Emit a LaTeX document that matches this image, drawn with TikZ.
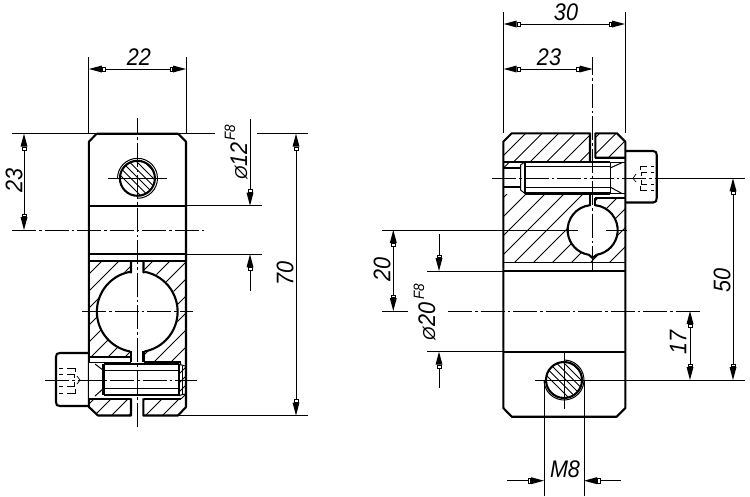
\documentclass[tikz,border=0pt]{standalone}
\usepackage{fontspec}
\usepackage{graphicx}
\setmainfont{Liberation Sans}
\usetikzlibrary{arrows.meta}
\newcommand{\dt}[2][.9]{\scalebox{#1}[1]{#2}}
\newcommand{\dia}{\scalebox{.72}{Ø}}
\tikzset{
 thick line/.style={line width=2.1pt,line join=round},
 thin line/.style={line width=1pt},
 hair/.style={line width=0.7pt},
 center line/.style={line width=1pt,dash pattern=on 24pt off 3pt on 2.5pt off 3pt},
 hatch/.style={line width=0.9pt},
 tipa/.tip={Rectangle[length=3.5pt,width=5pt,line width=.6pt,fill=white]Triangle[length=13pt,width=7pt,fill=black,line width=0pt]},
 dimline/.style={line width=1pt,tipa-tipa},
 endtip/.style={line width=1pt,-tipa},
 dimtext/.style={font=\fontsize{24}{24}\selectfont\itshape,inner sep=0pt},
 suptext/.style={font=\fontsize{15}{15}\selectfont\itshape,inner sep=0pt},
}
\newcommand{\hatchfill}[3]{% clip path, spacing, start sum
 \begin{scope}
 \clip #1;
 \foreach \k in {0,...,40}{
  \pgfmathsetmacro{\s}{#3+#2*\k}
  \draw[hatch] (\s-120,120) -- (\s-520,520);
 }
 \end{scope}}
\begin{document}
\begin{tikzpicture}[x=1pt,y=-1pt]
\useasboundingbox (0,0) rectangle (750,496);
\fill[white] (0,0) rectangle (750,496);
% ================ LEFT VIEW =================
\hatchfill{(89,261) rectangle (131,357)}{17}{346}
\hatchfill{(143,261) rectangle (186,362)}{17}{346}
\hatchfill{(89,398) -- (131,398) -- (131,415.5) -- (98,415.5) -- (89,407) -- cycle}{17}{391}
\hatchfill{(143.3,398) -- (186,398) -- (186,407) -- (178,415.5) -- (143.3,415.5) -- cycle}{17}{391}
\hatchfill{(179,363) rectangle (186,398)}{9}{391}
\fill[white] (137.5,311) circle (41);
\fill[white] (131,261.5) rectangle (143.5,363);
\draw[thick line] (96.7,133.7) -- (178,133.7) -- (186,141.7) -- (186,407) -- (178,415.5) -- (143.3,415.5) -- (143.3,398.3);
\draw[thick line] (96.7,133.7) -- (88.9,141.7) -- (88.9,407) -- (98,415.5) -- (131,415.5) -- (131,398.3);
\draw[thick line] (89,205.7) -- (186,205.7);
\draw[thick line] (89,254.3) -- (186,254.3);
\draw[thick line] (89,260.7) -- (186,260.7);
\draw[thick line] (130,271.8) -- (131,272.5) -- (131,261);
\draw[thick line] (143.5,261) -- (143.5,272.5) -- (144.5,271.8);
\draw[thick line] (130,271.8) arc[start angle=-100.5,end angle=-259.5,radius=40.5];
\draw[thick line] (144.5,271.8) arc[start angle=-79.5,end angle=79.5,radius=40.5];
\draw[thick line] (131,350.5) -- (131,362.3);
\draw[thick line] (143.5,350.5) -- (143.5,362.3);
% screw hole
\fill[white] (89,362) rectangle (179,398);
\draw[thick line] (89,357) -- (131,357);
\draw[thin line] (89,362.3) -- (131,362.3);
\draw[thick line] (143.5,362.3) -- (181,362.3);
\draw[thick line] (89,399) -- (131,399) (143.5,399) -- (181,399);
\draw[thick line] (103.5,364) -- (179,364) (103.5,395) -- (179,395) (103.5,364) -- (103.5,395) (179,364) -- (179,395);
\draw[thin line] (103.5,370.5) -- (179,370.5) (103.5,388.5) -- (179,388.5);
\draw[thin line] (95,364) -- (103.5,370.5) (95,396) -- (103.5,388.5);
\draw[thin line] (179,364.3) -- (185,366) (179,395.5) -- (185,394);
\draw[thin line] (182,365.5) -- (182,394.5);
% head
\draw[thick line] (88.9,353) -- (60,353) .. controls (57,353) and (56,354) .. (56,357) -- (56,402) .. controls (56,405) and (57,406) .. (60,406) -- (88.9,406);
\draw[hair] (59,368) -- (63,368) (59,374) -- (63,374) (59,386) -- (63,386) (59,393) -- (63,393) (67,368) -- (75,368) -- (75,372) (67,393) -- (75,393) -- (75,389) (67,374) -- (74,374) -- (74,378) (67,386) -- (74,386) -- (74,382);
\draw[hair] (77,376) -- (80,380) -- (77,384);
% center lines
\draw[center line,dash phase=8pt] (137.4,118) -- (137.4,428);
\draw[thin line] (108,178.3) -- (167,178.3);
\draw[center line] (12,230) -- (204,230);
\draw[center line] (82,311) -- (193,311);
\draw[center line] (45,380) -- (197,380);
% thread circle
\draw[thin line] (117.5,178.3) arc[start angle=180,end angle=450,radius=20];
\begin{scope}
\clip (137.4,178.3) circle (17.5);
\foreach \k in {0,...,6}{\draw[hatch] (95+\k*7.5,150) -- (95+\k*7.5+60,210);}
\end{scope}
\draw[thick line] (137.4,178.3) circle (17.5);
% dims left
\draw[thin line] (88.9,57) -- (88.9,134) (186,57) -- (186,134);
\draw[dimline] (88.9,69) -- (186,69);
\node[dimtext] (d22) at (139,57) {\dt{22}};
\draw[thin line] (12,133.7) -- (215,133.7) (257,133.7) -- (308,133.7);
\draw[dimline] (24,133.7) -- (24,230);
\node[dimtext,rotate=90] (d23l) at (14,180) {\dt{23}};
\draw[thin line] (186,205.7) -- (262,205.7) (186,254.3) -- (262,254.3);
\draw[endtip] (250,119) -- (250,205.7);
\draw[endtip] (250,291) -- (250,254.3);
\node[dimtext,rotate=90] (d12) at (239,161) {\dia\dt{12}};
\node[suptext,rotate=90] (f8a) at (230,132.5) {\dt{F8}};
\draw[dimline] (296,133.7) -- (296,415.5);
\draw[thin line] (178,415.5) -- (308,415.5);
\node[dimtext,rotate=90] (d70) at (285,273) {\dt{70}};
% ================ RIGHT VIEW =================
\hatchfill{(503.3,141.7) -- (511.7,133.3) -- (590,133.3) -- (590,161) -- (503.3,161) -- cycle}{16.5}{593}
\hatchfill{(595,133.3) -- (617,133.3) -- (625,141.7) -- (625,157) -- (595,157) -- cycle}{16.5}{601}
\hatchfill{(503.3,194) -- (625,194) -- (625,262) -- (503.3,262) -- cycle}{19}{625}
\hatchfill{(503.3,161) rectangle (521,168)}{16.5}{622}
\fill[white] (592.7,230) circle (25);
\fill[white] (590,194) rectangle (595,210);
\fill[white] (595,194) rectangle (625,198);
\draw[thick line] (590,161) -- (590,133.3) -- (511.7,133.3) -- (503.3,141.7) -- (503.3,408) -- (511.7,416.7) -- (616.7,416.7) -- (625.3,408) -- (625.3,141.7) -- (617,133.3) -- (595.3,133.3) -- (595.3,157.7) -- (625.3,157.7);
\draw[thick line] (525,161.7) -- (610,161.7) (525,193.5) -- (610,193.5);
\draw[thick line] (503.3,161.7) -- (525,161.7);
\draw[thin line] (525,166.5) -- (610,166.5) (525,187) -- (610,187) (610,161.7) -- (610,193.5);
\draw[thick line] (525,161.7) -- (525,193.5);
\draw[thin line] (520.5,165) -- (520.5,190) -- (525,193.5) (520.5,165) -- (525,161.7);
\draw[thick line] (503.3,168) -- (520.5,168) (503.3,187) -- (520.5,187);
\draw[thick line] (595.3,198.3) -- (625.3,198.3);
\draw[thin line] (596,162.7) -- (625,162.7) (596,193.5) -- (625,193.5);
\draw[thin line] (610,168) -- (622,162.7) (610,187) -- (622,193.5);
% screw head
\draw[thick line] (625.3,151) -- (653,151) .. controls (656,151) and (656.7,152.5) .. (656.7,155) -- (656.7,198) .. controls (656.7,201) and (656,202.5) .. (653,202.5) -- (625.3,202.5);
\draw[hair] (654,166) -- (651,166) (654,172) -- (651,172) (654,184) -- (651,184) (654,190) -- (651,190) (647,166) -- (640,166) -- (640,170) (647,190) -- (640,190) -- (640,186) (647,172) -- (641,172) -- (641,176) (647,184) -- (641,184) -- (641,180);
\draw[hair] (636,174) -- (633,178.3) -- (636,182);
\draw[thin line] (503.3,262.3) -- (625.3,262.3);
\draw[thick line] (503.3,271) -- (625.3,271);
\draw[thick line] (503.3,351.7) -- (625.3,351.7);
% hole with notches
\draw[thick line] (590,205.5) -- (590,194);
\draw[thick line] (595.3,205.5) -- (595.3,198);
\draw[thick line] (590,205.2) arc[start angle=-96,end angle=-261,radius=25];
\draw[thick line] (595.3,205.2) arc[start angle=-84,end angle=81,radius=25];
\draw[thick line] (588.7,254.7) -- (592.7,258) -- (596.7,254.7);
% center lines
\draw[center line,dash phase=6pt] (592.6,57) -- (592.6,270);
\draw[center line] (492,178.3) -- (680,178.3);
\draw[thin line] (660,178.3) -- (745,178.3);
\draw[thin line] (382,230) -- (578,230);
\draw[thin line] (606,230) -- (627,230);
\draw[center line] (448,311) -- (702,311);
\draw[thin line] (382,311) -- (408,311);
% bottom thread
\draw[thin line] (544,380) arc[start angle=180,end angle=-90,radius=20];
\begin{scope}
\clip (564,380) circle (18);
\foreach \k in {0,...,6}{\draw[hatch] (521+\k*7.5,350) -- (521+\k*7.5+60,410);}
\end{scope}
\draw[thick line] (564,380) circle (18);
\draw[thin line] (564,352) -- (564,409);
\draw[thin line] (535,380) -- (745,380);
% dims right
\draw[thin line] (503.7,12) -- (503.7,133) (625,12) -- (625,133);
\draw[dimline] (503.7,24) -- (625,24);
\node[dimtext] (d30) at (566,12) {\dt{30}};
\draw[dimline] (503.7,69) -- (592.6,69);
\node[dimtext] (d23r) at (549,57) {\dt{23}};
\draw[dimline] (393.3,230) -- (393.3,311);
\node[dimtext,rotate=90] (d20) at (382,269) {\dt{20}};
\draw[thin line] (427,271) -- (503,271) (427,351.7) -- (503,351.7);
\draw[endtip] (439,234) -- (439,271);
\draw[endtip] (439,388) -- (439,351.7);
\node[dimtext,rotate=90] (dp20) at (427,321.5) {\dia\dt{20}};
\node[suptext,rotate=90] (f8b) at (419,291.5) {\dt{F8}};
\draw[dimline] (690,311) -- (690,380);
\node[dimtext,rotate=90] (d17) at (678,342) {\dt{17}};
\draw[dimline] (733,178.3) -- (733,380);
\node[dimtext,rotate=90] (d50) at (722,280) {\dt{50}};
\draw[thin line] (544,380) -- (544,496) (584,380) -- (584,496);
\draw[endtip] (507,480.7) -- (544,480.7);
\draw[endtip] (620.7,480.7) -- (584,480.7);
\node[dimtext] (m8) at (565,469) {\dt{M8}};
\end{tikzpicture}
\end{document}
